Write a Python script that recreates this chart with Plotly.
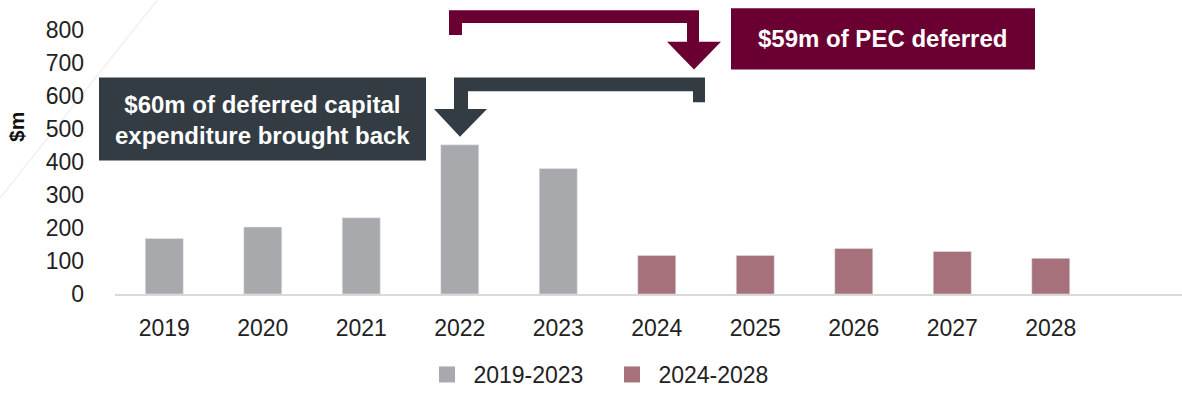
import plotly.graph_objects as go

# Capital expenditure by year ($m)
years_hist = ["2019", "2020", "2021", "2022", "2023"]
capex_hist = [168, 203, 231, 452, 380]
years_plan = ["2024", "2025", "2026", "2027", "2028"]
capex_plan = [117, 117, 138, 129, 108]
legend_labels = ["2019-2023", "2024-2028"]
y_ticks = [0, 100, 200, 300, 400, 500, 600, 700, 800]

GREY = "#a8a9ad"
ROSE = "#a6717b"
SLATE = "#333c43"
MAROON = "#6a0032"
FONT = "Liberation Sans, Arial, sans-serif"

W, H = 1182, 396
ML, MR, MT, MB = 115, 0, 30, 99
PW, PH = W - ML - MR, H - MT - MB


def px(x):
    return (x - ML) / PW


def py(y):
    return (H - MB - y) / PH


def poly(points):
    return "M" + " L".join(f"{px(x):.5f},{py(y):.5f}" for x, y in points) + " Z"


fig = go.Figure()
fig.add_trace(go.Bar(x=years_hist, y=capex_hist, marker_color=GREY,
                     showlegend=False))
fig.add_trace(go.Bar(x=years_plan, y=capex_plan, marker_color=ROSE,
                     showlegend=False))
# legend swatches
for name, col in zip(legend_labels, [GREY, ROSE]):
    fig.add_trace(go.Scatter(x=[None], y=[None], mode="markers",
                             name="\u00a0" + name,
                             marker=dict(symbol="square", size=16, color=col)))

shapes = [
    # faint diagonal guide at top left
    dict(type="line", xref="paper", yref="paper",
         x0=px(157), y0=py(0), x1=px(0), y1=py(200),
         line=dict(color="#f0f0f0", width=1.5), layer="below"),
    # PEC deferred arrow
    dict(type="path", xref="paper", yref="paper", fillcolor=MAROON,
         line=dict(width=0),
         path=poly([(449, 35), (449, 10), (699, 10), (699, 42), (721, 42),
                    (694, 70), (667, 42), (687, 42), (687, 23), (462, 23),
                    (462, 35)])),
    # capex brought back arrow
    dict(type="path", xref="paper", yref="paper", fillcolor=SLATE,
         line=dict(width=0),
         path=poly([(705, 103), (705, 78), (454, 78), (454, 110), (434, 110),
                    (460, 138), (487, 110), (468, 110), (468, 92), (693, 92),
                    (693, 103)])),
    # callout boxes
    dict(type="rect", xref="paper", yref="paper",
         x0=px(99), x1=px(426), y0=py(162), y1=py(78),
         fillcolor=SLATE, line=dict(width=0)),
    dict(type="rect", xref="paper", yref="paper",
         x0=px(731), x1=px(1035), y0=py(70), y1=py(8),
         fillcolor=MAROON, line=dict(width=0)),
]

annotations = [
    dict(xref="paper", yref="paper", x=px(262), y=py(121),
         text="<b>$60m of deferred capital<br>expenditure brought back</b>",
         showarrow=False, font=dict(family=FONT, size=24, color="white"),
         xanchor="center", yanchor="middle", align="center"),
    dict(xref="paper", yref="paper", x=px(882), y=py(39),
         text="<b>$59m of PEC deferred</b>",
         showarrow=False, font=dict(family=FONT, size=24, color="white"),
         xanchor="center", yanchor="middle"),
    dict(xref="paper", yref="paper", x=px(17), y=py(128),
         text="<b>$m</b>", textangle=-90, showarrow=False,
         font=dict(family=FONT, size=21, color="#111111"),
         xanchor="center", yanchor="middle"),
]

fig.update_layout(
    width=W, height=H,
    margin=dict(l=ML, r=MR, t=MT, b=MB),
    paper_bgcolor="white", plot_bgcolor="white",
    barmode="overlay", bargap=0.614,
    font=dict(family=FONT, size=23, color="#222222"),
    shapes=shapes, annotations=annotations,
    legend=dict(orientation="h", x=px(439) - 12 / PW, y=py(379),
                xanchor="left", yanchor="middle", font=dict(size=23),
                entrywidth=140, entrywidthmode="pixels", itemclick=False),
)
fig.update_xaxes(type="category", categoryorder="array",
                 categoryarray=years_hist + years_plan,
                 range=[-0.5, -0.5 + PW / 98.5],
                 showline=True, linecolor="#d9d9d9", linewidth=2,
                 showgrid=False, ticks="", ticklabelstandoff=12,
                 zeroline=False)
fig.update_yaxes(range=[0, 800], tickvals=y_ticks, showgrid=False,
                 zeroline=False, showline=False, ticks="",
                 ticklabelstandoff=30)

fig.write_html("out.html")
